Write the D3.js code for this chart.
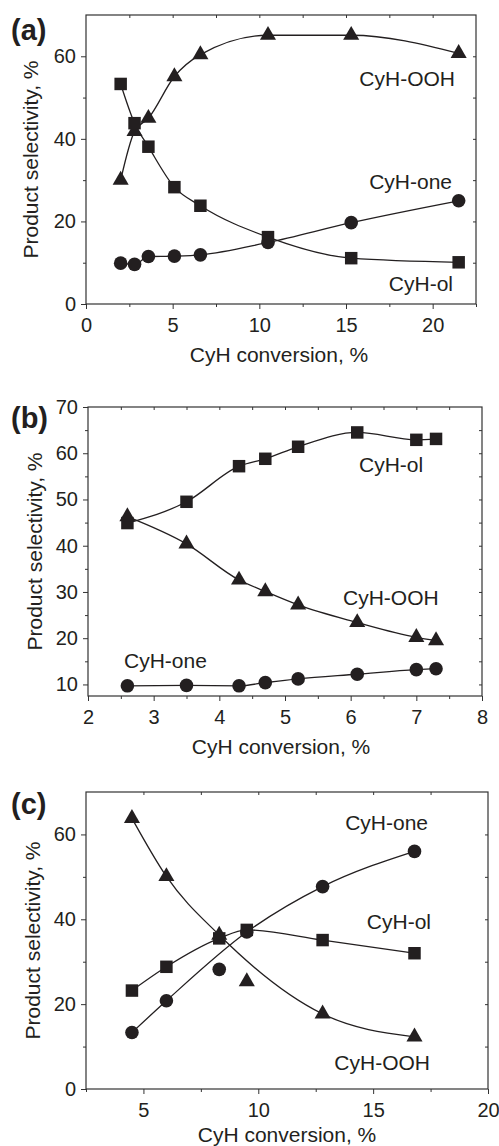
<!DOCTYPE html>
<html>
<head>
<meta charset="utf-8">
<script src="https://cdn.jsdelivr.net/npm/d3@7"></script>
<style>
  body { margin: 0; background: #fff; }
  text { font-family: "Liberation Sans", Arial, sans-serif; }
</style>
</head>
<body>
<svg id="chart" width="499" height="1146"></svg>
<script>
// data declaration
// (a)
const aConv = [2.0, 2.8, 3.6, 5.1, 6.6, 10.5, 15.3, 21.5];
const aOOH  = [30.0, 41.8, 45.0, 55.1, 60.4, 65.1, 65.1, 60.7];
const aOl   = [53.3, 43.8, 38.1, 28.3, 23.8, 16.2, 11.1, 10.1];
const aOne  = [9.9, 9.6, 11.5, 11.6, 11.9, 14.9, 19.7, 25.0];
const aXTicks = [0, 5, 10, 15, 20];
const aXMinor = [2.5, 7.5, 12.5, 17.5, 22.5];
const aYTicks = [0, 20, 40, 60];
const aYMinor = [10, 30, 50, 70];

// (b)
const bConv = [2.6, 3.5, 4.3, 4.7, 5.2, 6.1, 7.0, 7.3];
const bOl   = [44.9, 49.5, 57.2, 58.8, 61.4, 64.5, 62.9, 63.1];
const bOOH  = [46.3, 40.4, 32.6, 30.1, 27.2, 23.4, 20.2, 19.5];
const bOne  = [9.7, 9.8, 9.7, 10.4, 11.2, 12.2, 13.2, 13.4];
const bXTicks = [2, 3, 4, 5, 6, 7, 8];
const bXMinor = [2.5, 3.5, 4.5, 5.5, 6.5, 7.5];
const bYTicks = [10, 20, 30, 40, 50, 60, 70];
const bYMinor = [15, 25, 35, 45, 55, 65];

// (c)
const cConv = [4.5, 6.0, 8.3, 9.5, 12.8, 16.8];
const cOl   = [23.2, 28.8, 35.5, 37.5, 35.1, 32.0];
const cOne  = [13.3, 20.8, 28.2, 37.0, 47.7, 56.0];
const cOOH  = [63.8, 50.1, 36.3, 25.3, 17.7, 12.3];
// points left off the fitted curve
const cOneOff = [2];
const cOOHOff = [3];
const cXTicks = [5, 10, 15, 20];
const cXMinor = [2.5, 7.5, 12.5, 17.5];
const cYTicks = [0, 20, 40, 60];
const cYMinor = [10, 30, 50, 70];

const ink = "#231f20";
const svg = d3.select("#chart");

// panel layout
const panels = [
  { tag: "(a)", l: 86, r: 476, t: 15, b: 304, xDom: [0, 22.5], yDom: [0, 70],
    xTicks: aXTicks, xMinor: aXMinor, yTicks: aYTicks, yMinor: aYMinor,
    tagY: 40, yTitleX: 38, xTitleY: 362, xTitleX: 279,
    series: [
      { x: aConv, y: aOOH, sym: d3.symbolTriangle, off: [], label: "CyH-OOH", lx: 455, ly: 86, anchor: "end" },
      { x: aConv, y: aOl,  sym: d3.symbolSquare,   off: [], label: "CyH-ol",  lx: 453, ly: 291, anchor: "end" },
      { x: aConv, y: aOne, sym: d3.symbolCircle,   off: [], label: "CyH-one", lx: 452, ly: 189, anchor: "end" }
    ] },
  { tag: "(b)", l: 88, r: 482, t: 407, b: 696, xDom: [2, 8], yDom: [7.5, 70],
    xTicks: bXTicks, xMinor: bXMinor, yTicks: bYTicks, yMinor: bYMinor,
    tagY: 428, yTitleX: 42, xTitleY: 754, xTitleX: 281,
    series: [
      { x: bConv, y: bOl,  sym: d3.symbolSquare,   off: [], label: "CyH-ol",  lx: 359, ly: 472, anchor: "start" },
      { x: bConv, y: bOOH, sym: d3.symbolTriangle, off: [], label: "CyH-OOH", lx: 343, ly: 605, anchor: "start" },
      { x: bConv, y: bOne, sym: d3.symbolCircle,   off: [], label: "CyH-one", lx: 124, ly: 668, anchor: "start" }
    ] },
  { tag: "(c)", l: 86, r: 488, t: 792, b: 1089, xDom: [2.5, 20], yDom: [0, 70],
    xTicks: cXTicks, xMinor: cXMinor, yTicks: cYTicks, yMinor: cYMinor,
    tagY: 814, yTitleX: 40, xTitleY: 1142, xTitleX: 287,
    series: [
      { x: cConv, y: cOl,  sym: d3.symbolSquare,   off: [],      label: "CyH-ol",  lx: 431, ly: 929, anchor: "end" },
      { x: cConv, y: cOne, sym: d3.symbolCircle,   off: cOneOff, label: "CyH-one", lx: 428, ly: 830, anchor: "end" },
      { x: cConv, y: cOOH, sym: d3.symbolTriangle, off: cOOHOff, label: "CyH-OOH", lx: 430, ly: 1070, anchor: "end" }
    ] }
];

const symSize = new Map([
  [d3.symbolSquare, 156],
  [d3.symbolCircle, 145],
  [d3.symbolTriangle, 112]
]);

const styleAxis = sel => {
  sel.select(".domain").remove();
  sel.selectAll(".tick line").attr("stroke", "#333");
  sel.attr("font-size", 20).attr("font-family", "'Liberation Sans', Arial, sans-serif")
    .style("color", ink);
};

panels.forEach(p => {
  const x = d3.scaleLinear().domain(p.xDom).range([p.l, p.r]);
  const y = d3.scaleLinear().domain(p.yDom).range([p.b, p.t]);
  const g = svg.append("g");

  // bottom axis, labelled, outward ticks
  g.append("g").attr("transform", `translate(0,${p.b})`)
    .call(d3.axisBottom(x).tickValues(p.xTicks).tickSize(5).tickPadding(9).tickFormat(d3.format("d")))
    .call(styleAxis);
  g.append("g").attr("transform", `translate(0,${p.b})`)
    .call(d3.axisBottom(x).tickValues(p.xMinor).tickSize(3).tickFormat(""))
    .call(styleAxis);
  // left axis
  g.append("g").attr("transform", `translate(${p.l},0)`)
    .call(d3.axisLeft(y).tickValues(p.yTicks).tickSize(5).tickPadding(5).tickFormat(d3.format("d")))
    .call(styleAxis);
  g.append("g").attr("transform", `translate(${p.l},0)`)
    .call(d3.axisLeft(y).tickValues(p.yMinor.filter(v => v < p.yDom[1])).tickSize(3).tickFormat(""))
    .call(styleAxis);
  // mirror ticks, inward
  g.append("g").attr("transform", `translate(0,${p.t})`)
    .call(d3.axisTop(x).tickValues(p.xTicks.concat(p.xMinor).filter(v => v > p.xDom[0] && v < p.xDom[1])).tickSize(-3).tickFormat(""))
    .call(styleAxis);
  g.append("g").attr("transform", `translate(${p.r},0)`)
    .call(d3.axisRight(y).tickValues(p.yTicks.concat(p.yMinor).filter(v => v > p.yDom[0] && v < p.yDom[1])).tickSize(-3).tickFormat(""))
    .call(styleAxis);

  // frame
  g.append("rect")
    .attr("x", p.l).attr("y", p.t)
    .attr("width", p.r - p.l).attr("height", p.b - p.t)
    .attr("fill", "none").attr("stroke", "#333").attr("stroke-width", 1.2);

  // curves
  const line = d3.line()
    .x(d => x(d[0])).y(d => y(d[1]))
    .curve(d3.curveMonotoneX);

  p.series.forEach(s => {
    const pts = s.x.map((v, i) => [v, s.y[i], i]);
    g.append("path")
      .datum(pts.filter(d => !s.off.includes(d[2])))
      .attr("d", line)
      .attr("fill", "none")
      .attr("stroke", ink)
      .attr("stroke-width", 1.3);
  });

  p.series.forEach(s => {
    const pts = s.x.map((v, i) => [v, s.y[i]]);
    g.selectAll(null)
      .data(pts)
      .enter()
      .append("path")
      .attr("transform", d => `translate(${x(d[0])},${y(d[1])})`)
      .attr("d", d3.symbol(s.sym, symSize.get(s.sym)))
      .attr("fill", ink);

    g.append("text")
      .attr("x", s.lx).attr("y", s.ly)
      .attr("text-anchor", s.anchor)
      .attr("font-size", 21)
      .attr("fill", ink)
      .text(s.label);
  });

  // titles
  g.append("text")
    .attr("transform", `translate(${p.yTitleX},${(p.t + p.b) / 2}) rotate(-90)`)
    .attr("text-anchor", "middle")
    .attr("font-size", 21)
    .attr("fill", ink)
    .text("Product selectivity, %");

  g.append("text")
    .attr("x", p.xTitleX).attr("y", p.xTitleY)
    .attr("text-anchor", "middle")
    .attr("font-size", 21)
    .attr("fill", ink)
    .text("CyH conversion, %");

  g.append("text")
    .attr("x", 11).attr("y", p.tagY)
    .attr("font-size", 29)
    .attr("font-weight", "bold")
    .attr("fill", ink)
    .text(p.tag);
});
</script>
</body>
</html>
